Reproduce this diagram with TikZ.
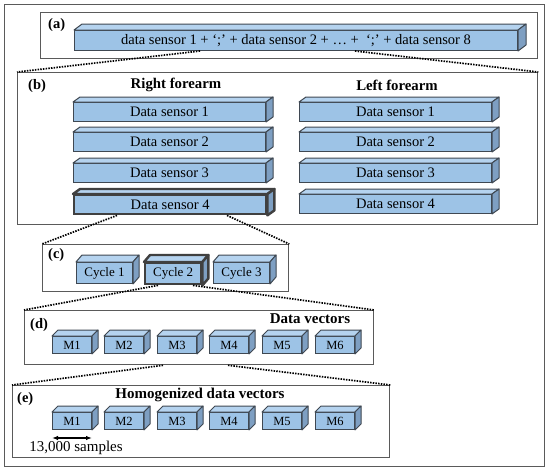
\documentclass[tikz,border=0pt]{standalone}
\usepackage{fontspec}
\setmainfont{Liberation Serif}
\usetikzlibrary{positioning, arrows.meta}

\definecolor{frontblue}{HTML}{9DC3E6}
\definecolor{topblue}{HTML}{B5D3EF}
\definecolor{sideblue}{HTML}{7E9FC2}
\definecolor{edgegray}{HTML}{3F4852}
\definecolor{framegray}{HTML}{5A5A5A}

\tikzset{
  frame/.style={draw=framegray, line width=1.3pt, inner sep=0pt, anchor=north west},
  block/.style={draw=edgegray, fill=frontblue, line width=1pt, inner sep=0pt, anchor=north west},
  bigblock/.style={block, draw=black!75, line width=2.4pt},
  sensor/.style={minimum width=192pt, minimum height=19pt, font=\fontsize{14.5}{16}\selectfont},
  cycle/.style={minimum width=56pt, minimum height=21pt, font=\fontsize{13}{15}\selectfont},
  vect/.style={block, minimum width=39pt, minimum height=17pt, font=\fontsize{12.5}{14}\selectfont},
  topface/.style={draw=edgegray, fill=topblue, line width=1pt, line join=round},
  sideface/.style={draw=edgegray, fill=sideblue, line width=1pt, line join=round},
  zoomline/.style={line width=1.7pt, dash pattern=on 1.5pt off 1.2pt},
  tag/.style={font=\bfseries\fontsize{14.5}{16}\selectfont, anchor=west, inner sep=0pt},
  head/.style={font=\bfseries\fontsize{14.8}{16}\selectfont, inner sep=0pt},
}

% top and side faces of a block
\newcommand{\faces}[4]{%
  \draw[topface,#4] (#1.north west) -- ++(#2,#3) -- ([shift={(#2,#3)}]#1.north east) -- (#1.north east) -- cycle;
  \draw[sideface,#4] (#1.north east) -- ++(#2,#3) -- ([shift={(#2,#3)}]#1.south east) -- (#1.south east) -- cycle;
}

\begin{document}
\begin{tikzpicture}[x=1pt, y=-1pt]
    \useasboundingbox (0,0) rectangle (550,471);
    \node[frame, minimum width=540pt, minimum height=462pt] (outer) at (4,4) {};

    % (a)
    \node[frame, minimum width=497pt, minimum height=46pt] (boxa) at (40,12) {};
    \node[tag] (taga) at (48,25) {(a)};
    \node[block, minimum width=443pt, minimum height=20pt, font=\fontsize{14.5}{16}\selectfont] (all) at (74,30)
        {data sensor 1 + ‘;’ + data sensor 2 + … +~ ‘;’ + data sensor 8};
    \faces{all}{8}{-6}{}

    % (b)
    \node[frame, minimum width=520pt, minimum height=152pt] (boxb) at (17,72) {};
    \node[tag] (tagb) at (28,86) {(b)};
    \node[head] (right) at (176,85) {Right forearm};
    \node[head] (left) at (397,85) {Left forearm};
    \foreach \i/\y in {1/102,2/132,3/163} {
        \node[block, sensor] (r\i) at (73,\y) {Data sensor \i};
        \faces{r\i}{7}{-5}{}
    }
    \node[bigblock, sensor] (r4) at (73,194) {Data sensor 4};
    \faces{r4}{7}{-5}{draw=black!75, line width=2.4pt}
    \foreach \i/\y in {1/102,2/132,3/163,4/194} {
        \node[block, sensor] (l\i) at (299,\y) {Data sensor \i};
        \faces{l\i}{7}{-5}{}
    }
    \draw[zoomline] ([xshift=126pt]all.south west) -- (boxb.north west);
    \draw[zoomline] ([xshift=281pt]all.south west) -- (boxb.north east);

    % (c)
    \node[frame, minimum width=246pt, minimum height=47pt] (boxc) at (42,244) {};
    \node[tag] (tagc) at (48,255) {(c)};
    \node[block, cycle] (cy1) at (76,262) {Cycle 1};
    \faces{cy1}{6}{-7}{}
    \node[bigblock, cycle] (cy2) at (144,262) {Cycle 2};
    \faces{cy2}{6}{-7}{draw=black!75, line width=2.4pt}
    \node[block, cycle] (cy3) at (213,262) {Cycle 3};
    \faces{cy3}{6}{-7}{}
    \draw[zoomline] ([xshift=44pt]r4.south west) -- (boxc.north west);
    \draw[zoomline] ([xshift=154pt]r4.south west) -- (boxc.north east);

    % (d)
    \node[frame, minimum width=349pt, minimum height=54pt] (boxd) at (24,310) {};
    \node[tag] (tagd) at (30,325) {(d)};
    \node[head, font=\bfseries\fontsize{15}{16}\selectfont] (vectors) at (310,319) {Data vectors};
    \foreach \i/\x in {1/52,2/104,3/157,4/209,5/262,6/315} {
        \node[vect] (dm\i) at (\x,336) {M\i};
        \faces{dm\i}{6}{-6}{}
    }
    \draw[zoomline] ([xshift=14pt]cy2.south west) -- (boxd.north west);
    \draw[zoomline] ([xshift=49pt]cy2.south west) -- (boxd.north east);

    % (e)
    \node[frame, minimum width=377pt, minimum height=72pt] (boxe) at (12,385) {};
    \node[tag] (tage) at (17,399) {(e)};
    \node[head, font=\bfseries\fontsize{15}{16}\selectfont] (homog) at (200,395) {Homogenized data vectors};
    \foreach \i/\x in {1/52,2/104,3/157,4/209,5/262,6/315} {
        \node[vect] (em\i) at (\x,412) {M\i};
        \faces{em\i}{6}{-6}{}
    }
    \draw[zoomline] ([xshift=139pt]boxd.south west) -- (boxe.north west);
    \draw[zoomline] ([xshift=204pt]boxd.south west) -- (boxe.north east);
    \draw[{Latex[length=6pt]}-{Latex[length=6pt]}, line width=1.8pt]
        ([yshift=-8pt]em1.south west) -- ([yshift=-8pt]em1.south east);
    \node[font=\fontsize{15}{17}\selectfont, inner sep=0pt] (samples) at (76,448) {13,000 samples};
\end{tikzpicture}
\end{document}
